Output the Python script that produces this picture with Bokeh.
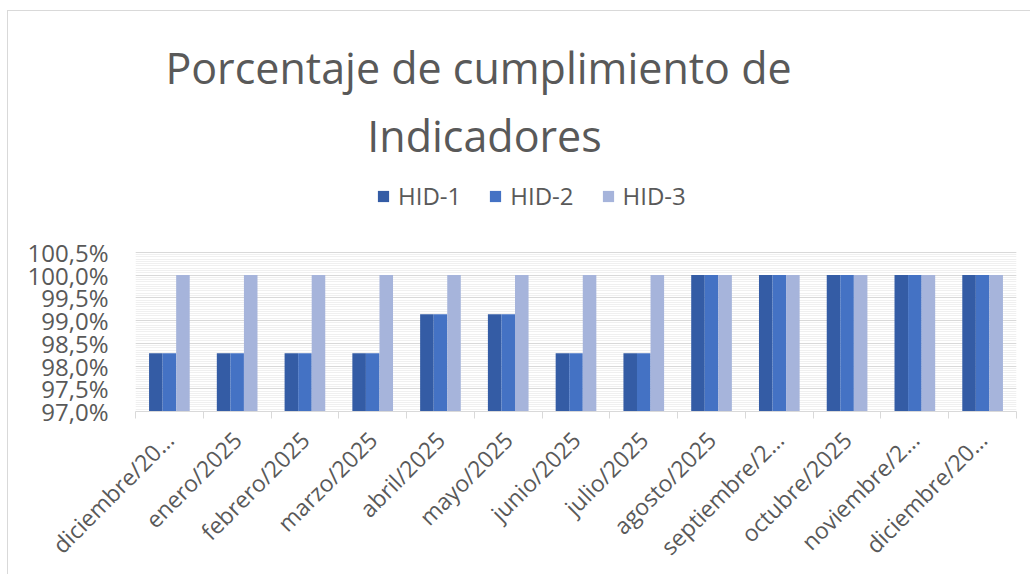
import numpy as np
from bokeh.plotting import figure
from bokeh.models import (ColumnDataSource, Range1d, FixedTicker, CustomJSTickFormatter,
                          Legend, LegendItem, Label)
from bokeh.transform import dodge
from bokeh.embed import file_html
from bokeh.resources import INLINE
from math import pi

# ---- data ----
categories = ["diciembre/20…", "enero/2025", "febrero/2025", "marzo/2025", "abril/2025",
              "mayo/2025", "junio/2025", "julio/2025", "agosto/2025", "septiembre/2…",
              "octubre/2025", "noviembre/2…", "diciembre/20…"]
hid1 = [98.28, 98.28, 98.28, 98.28, 99.14, 99.14, 98.28, 98.28, 100.0, 100.0, 100.0, 100.0, 100.0]
hid2 = [98.28, 98.28, 98.28, 98.28, 99.14, 99.14, 98.28, 98.28, 100.0, 100.0, 100.0, 100.0, 100.0]
hid3 = [100.0] * 13
series_names = ["HID-1", "HID-2", "HID-3"]
y_ticks = [97.0, 97.5, 98.0, 98.5, 99.0, 99.5, 100.0, 100.5]
title_lines = ["Porcentaje de cumplimiento de", "Indicadores"]

colors = ["#345CA5", "#4472C4", "#A6B4DB"]
FONT = "Open Sans"
TXT = "#595959"

# plot area: 160 px for the 97.0–100.5 band; the frame also holds the title/legend space above
Y0, Y1 = y_ticks[0], y_ticks[-1]
FRAME_H = 402
y_top = Y0 + (Y1 - Y0) * FRAME_H / 160.0

xs = list(range(1, len(categories) + 1))
src = ColumnDataSource(dict(x=xs, hid1=hid1, hid2=hid2, hid3=hid3))

p = figure(width=1023, height=564, output_backend="svg", toolbar_location=None,
           x_range=Range1d(0.5, len(categories) + 0.5), y_range=Range1d(Y0, y_top),
           min_border_left=127, min_border_right=15, min_border_top=0, min_border_bottom=162,
           styles={"border-left": "1px solid #D9D9D9", "border-top": "1px solid #D9D9D9",
                   "margin-left": "7px", "margin-top": "10px"})
p.outline_line_color = None
p.background_fill_color = "white"
p.border_fill_color = "white"

renderers = []
for key, off, col in zip(["hid1", "hid2", "hid3"], [-0.2, 0.0, 0.2], colors):
    r = p.vbar(x=dodge("x", off, range=p.x_range), top=key, bottom=Y0, width=0.2,
               source=src, fill_color=col, line_color=None)
    renderers.append(r)

# y axis
minor = [round(v, 2) for v in np.arange(Y0, Y1 + 0.0001, 0.05)]
p.yaxis.ticker = FixedTicker(ticks=y_ticks, minor_ticks=minor)
p.yaxis.formatter = CustomJSTickFormatter(code="return tick.toFixed(1).replace('.', ',') + '%';")
p.yaxis.axis_line_color = None
p.yaxis.major_tick_line_color = None
p.yaxis.minor_tick_line_color = None
p.yaxis.major_label_standoff = 21
p.yaxis.major_label_text_font = FONT
p.yaxis.major_label_text_font_size = "24px"
p.yaxis.major_label_text_color = TXT
p.ygrid.grid_line_color = "#D9D9D9"
p.ygrid.minor_grid_line_color = "#F0F0F0"
p.ygrid.bounds = (Y0, Y1)
p.xgrid.grid_line_color = None

# x axis
p.xaxis.ticker = FixedTicker(ticks=xs, minor_ticks=[i + 0.5 for i in range(len(categories) + 1)])
p.xaxis.major_label_overrides = {i + 1: c for i, c in enumerate(categories)}
p.xaxis.major_label_orientation = pi / 4
p.xaxis.major_tick_line_color = None
p.xaxis.minor_tick_in = 0
p.xaxis.minor_tick_out = 7
p.xaxis.minor_tick_line_color = "#D9D9D9"
p.xaxis.axis_line_color = "#D9D9D9"
p.xaxis.major_label_text_font = FONT
p.xaxis.major_label_text_font_size = "23px"
p.xaxis.major_label_text_color = TXT
p.xaxis.major_label_standoff = 17

# title (two centred lines), screen units relative to the frame's bottom-left
for txt, xc, yb in zip(title_lines, [343, 349], [344, 276]):
    p.add_layout(Label(x=xc, y=yb, x_units="screen", y_units="screen", text=txt,
                       text_align="center", text_baseline="alphabetic",
                       text_font=FONT, text_font_size="43px", text_color=TXT))

legend = Legend(items=[LegendItem(label=n, renderers=[r]) for n, r in zip(series_names, renderers)],
                orientation="horizontal", location=(241, 199))
legend.label_text_font = FONT
legend.label_text_font_size = "24px"
legend.label_text_color = TXT
legend.glyph_width = 14
legend.glyph_height = 14
legend.border_line_color = None
legend.background_fill_alpha = 0
legend.spacing = 27
legend.label_standoff = 8
legend.padding = 0
legend.margin = 0
p.add_layout(legend, "center")

open("out.html", "w").write(file_html(p, INLINE))
